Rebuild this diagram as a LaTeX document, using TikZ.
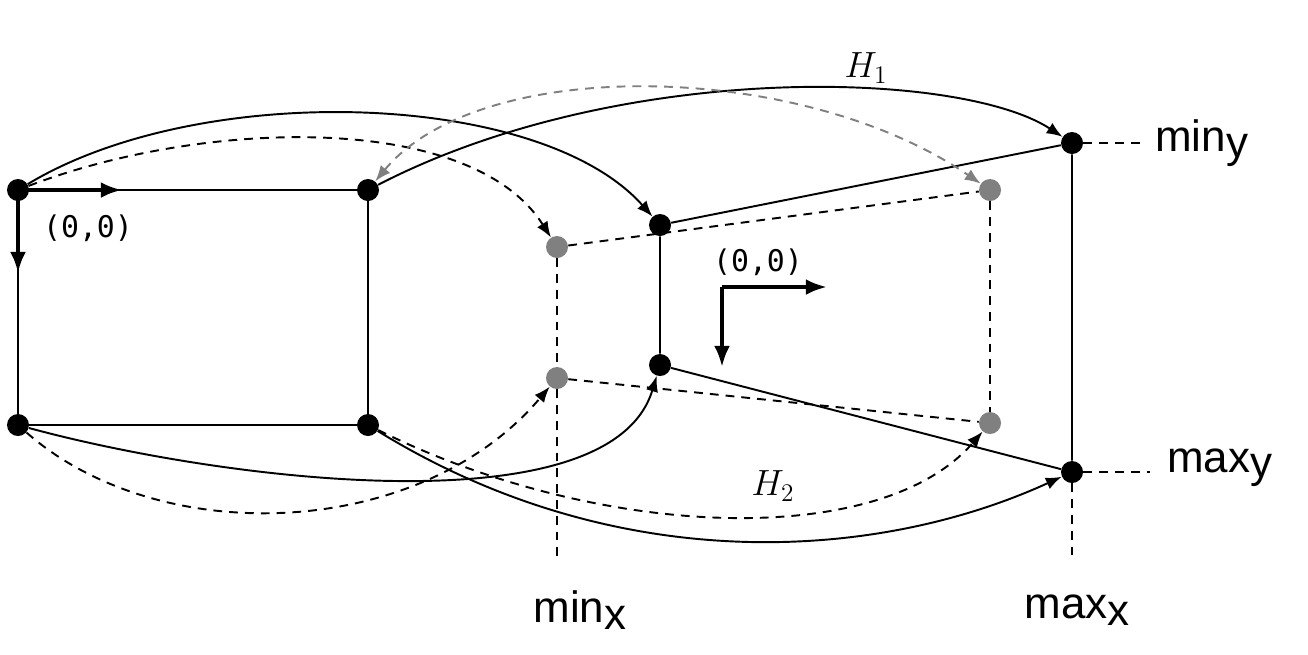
\documentclass[tikz,border=0pt]{standalone}
\usepackage{fontspec}
\setsansfont{Liberation Sans}
\setmonofont{DejaVu Sans Mono}
\usetikzlibrary{arrows.meta}
\begin{document}
\begin{tikzpicture}[x=0.02cm,y=-0.02cm,
  dot/.style={circle,fill=black,inner sep=0pt,minimum size=0.44cm},
  gdot/.style={circle,fill=gray,inner sep=0pt,minimum size=0.44cm},
  ln/.style={line width=1.1pt},
  dl/.style={line width=1.1pt,dash pattern=on 5pt off 4pt},
  arr/.style={-{Latex[length=9pt,width=7pt]}},
  darr/.style={{Latex[length=9pt,width=7pt]}-{Latex[length=9pt,width=7pt]}},
  ax/.style={line width=2.2pt,-{Latex[length=12pt,width=9pt]}},
  lab/.style={font=\sffamily\fontsize{25}{25}\selectfont,inner sep=0pt},
  mono/.style={font=\ttfamily\fontsize{17}{17}\selectfont,inner sep=0pt}]
\useasboundingbox (0,0) rectangle (1308,654);
\node[dot] (A) at (18,190) {};
\node[dot] (B) at (18,425) {};
\node[dot] (C) at (368,190) {};
\node[dot] (D) at (368,425) {};
\node[dot] (E) at (660,225) {};
\node[dot] (F) at (660,365) {};
\node[gdot] (G) at (557,247) {};
\node[gdot] (Hh) at (557,378) {};
\node[gdot] (I) at (990,190) {};
\node[gdot] (J) at (990,423) {};
\node[dot] (K) at (1072,143) {};
\node[dot] (L) at (1072,472) {};
\coordinate (gb) at (557,558);
\coordinate (kb) at (1072,558);
\coordinate (ky) at (1140,143);
\coordinate (ly) at (1150,472);
% dashed frame
\draw[dl] (G) -- (I);
\draw[dl] (Hh) -- (J);
\draw[dl] (I) -- (J);
\draw[dl] (G) -- (Hh) -- (gb);
\draw[dl] (L) -- (kb);
\draw[dl] (K) -- (ky);
\draw[dl] (L) -- (ly);
% solid frames
\draw[ln] (A) -- (C) -- (D) -- (B) -- (A);
\draw[ln] (E) -- (F) -- (L) -- (K) -- (E);
% curves
\draw[ln,arr] (A) .. controls (200,80) and (540,90) .. (E);
\draw[dl,arr] (A) .. controls (200,120) and (470,110) .. (G);
\draw[ln,arr] (C) .. controls (620,60) and (960,70) .. (K);
\draw[dl,gray,darr] (C) .. controls (480,55) and (800,60) .. (I);
\draw[ln,arr] (B) .. controls (220,480) and (610,530) .. (F);
\draw[dl,arr] (B) .. controls (160,550) and (420,540) .. (Hh);
\draw[ln,arr] (D) .. controls (620,580) and (880,560) .. (L);
\draw[dl,arr] (D) .. controls (600,540) and (880,550) .. (J);
% axes
\coordinate (o1) at (18,190);
\coordinate (o1x) at (122,190);
\coordinate (o1y) at (18,273);
\draw[ax] (o1) -- (o1x);
\draw[ax] (o1) -- (o1y);
\coordinate (o2) at (722,287);
\coordinate (o2x) at (827,287);
\coordinate (o2y) at (722,367);
\draw[ax] (o2) -- (o2x);
\draw[ax] (o2) -- (o2y);
% labels
\node[mono] (t1) at (88,228) {(0,0)};
\node[mono] (t2) at (758,262) {(0,0)};
\node[inner sep=0pt,font=\fontsize{22}{22}\selectfont] (h1) at (866,68) {$H_1$};
\node[inner sep=0pt,font=\fontsize{22}{22}\selectfont] (h2) at (773,486) {$H_2$};
\node[lab,anchor=west] (miny) at (1155,143) {min\raisebox{-3pt}{y}};
\node[lab,anchor=west] (maxy) at (1167,468) {max\raisebox{-3pt}{y}};
\node[lab] (minx) at (580,610) {min\raisebox{-4pt}{x}};
\node[lab] (maxx) at (1077,610) {max\raisebox{-4pt}{x}};
\end{tikzpicture}
\end{document}
